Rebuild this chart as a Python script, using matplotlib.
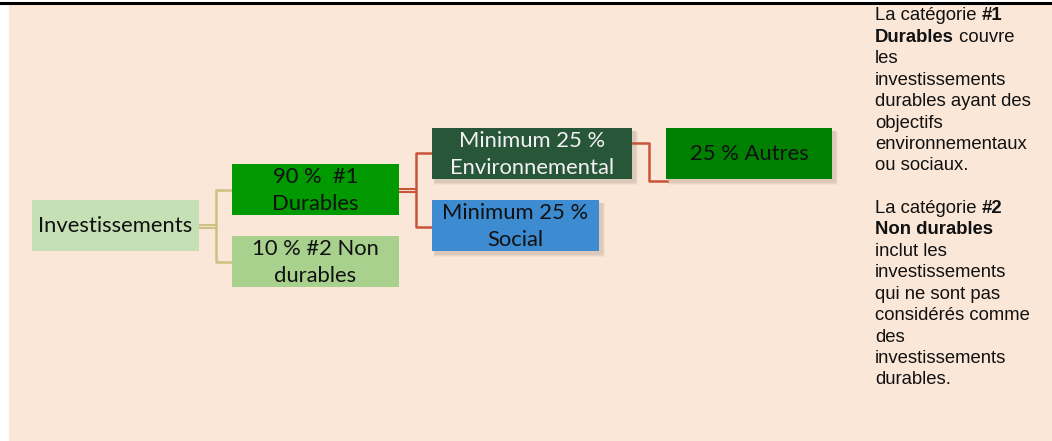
import matplotlib.pyplot as plt
from matplotlib.patches import Rectangle

# box labels (tree: investments -> #1 / #2 -> env / social -> others)
labels = ["Investissements", "90 %  #1\nDurables", "10 % #2 Non\ndurables",
          "Minimum 25 %\nEnvironnemental", "Minimum 25 %\nSocial", "25 % Autres"]
colors = ["#C5E0B4", "#009900", "#A9D18E", "#275639", "#3D8BD0", "#008000"]
text_colors = ["#111111", "#111111", "#111111", "#F2F2F2", "#111111", "#111111"]

# side note, list of (normal/bold) segments per line
note_lines = [
    [("La catégorie ", False), ("#1", True)],
    [("Durables", True), (" couvre", False)],
    [("les", False)],
    [("investissements", False)],
    [("durables ayant des", False)],
    [("objectifs", False)],
    [("environnementaux", False)],
    [("ou sociaux.", False)],
    [],
    [("La catégorie ", False), ("#2", True)],
    [("Non durables", True)],
    [("inclut les", False)],
    [("investissements", False)],
    [("qui ne sont pas", False)],
    [("considérés comme", False)],
    [("des", False)],
    [("investissements", False)],
    [("durables.", False)],
]

W, H = 1052, 441
fig = plt.figure(figsize=(W / 100, H / 100), dpi=100)
ax = fig.add_axes([0, 0, 1, 1])
ax.set_xlim(0, W)
ax.set_ylim(H, 0)
ax.axis('off')

# background panel + top rule
ax.add_patch(Rectangle((9, 4), W - 9, H - 4, color="#FAE7D7", zorder=0))
ax.plot([0, W], [2.5, 2.5], color="black", lw=2.2, zorder=1)

# box geometry: x0, y0, x1, y1 in pixels
boxes = [(32, 200, 199, 251), (232, 164, 399, 215), (232, 236, 399, 287),
         (432, 128, 632, 179), (432, 200, 599, 251), (666, 128, 832, 179)]
shadow = [False, False, False, True, True, True]

for (x0, y0, x1, y1), lab, c, tc, sh in zip(boxes, labels, colors, text_colors, shadow):
    if sh:
        for k, a in enumerate([0.05, 0.07, 0.09]):
            d = 4 - k
            ax.add_patch(Rectangle((x0 + 2, y0 + 3), x1 - x0 + d, y1 - y0 + d - 1,
                                   color="#6b5a4a", alpha=a, lw=0, zorder=2))
    ax.add_patch(Rectangle((x0, y0), x1 - x0, y1 - y0, color=c, lw=0, zorder=3))
    ax.text((x0 + x1) / 2, (y0 + y1) / 2 + 1, lab, ha='center', va='center',
            fontsize=15.8, family='Lato', color=tc, linespacing=1.38, zorder=4)

# connectors
tan = "#CDC082"
red = "#C8553A"
ax.plot([199, 216], [225, 225], color=tan, lw=1.5, zorder=2)
ax.plot([199, 216], [227.5, 227.5], color=tan, lw=1.5, zorder=2)
ax.plot([232, 216, 216, 232], [190, 190, 262, 262], color=tan, lw=1.8, zorder=2)

ax.plot([399, 416], [189, 189], color=red, lw=1.5, zorder=2)
ax.plot([399, 416], [191.5, 191.5], color=red, lw=1.5, zorder=2)
ax.plot([432, 416, 416, 432], [153, 153, 227, 227], color=red, lw=1.8, zorder=2)
ax.plot([632, 649, 649, 667], [143, 143, 181, 181], color=red, lw=1.8, zorder=2)

# side note with mixed bold runs
fig.canvas.draw()
r = fig.canvas.get_renderer()
for i, segs in enumerate(note_lines):
    y = 16 + i * 21.4
    x = 875
    for s, b in segs:
        t = ax.text(x, y, s, ha='left', va='center', fontsize=13.3,
                    family='Liberation Sans', fontweight='bold' if b else 'normal',
                    color="#111111", zorder=4)
        bb = t.get_window_extent(renderer=r)
        x += bb.width

fig.savefig("out.png", dpi=100)
